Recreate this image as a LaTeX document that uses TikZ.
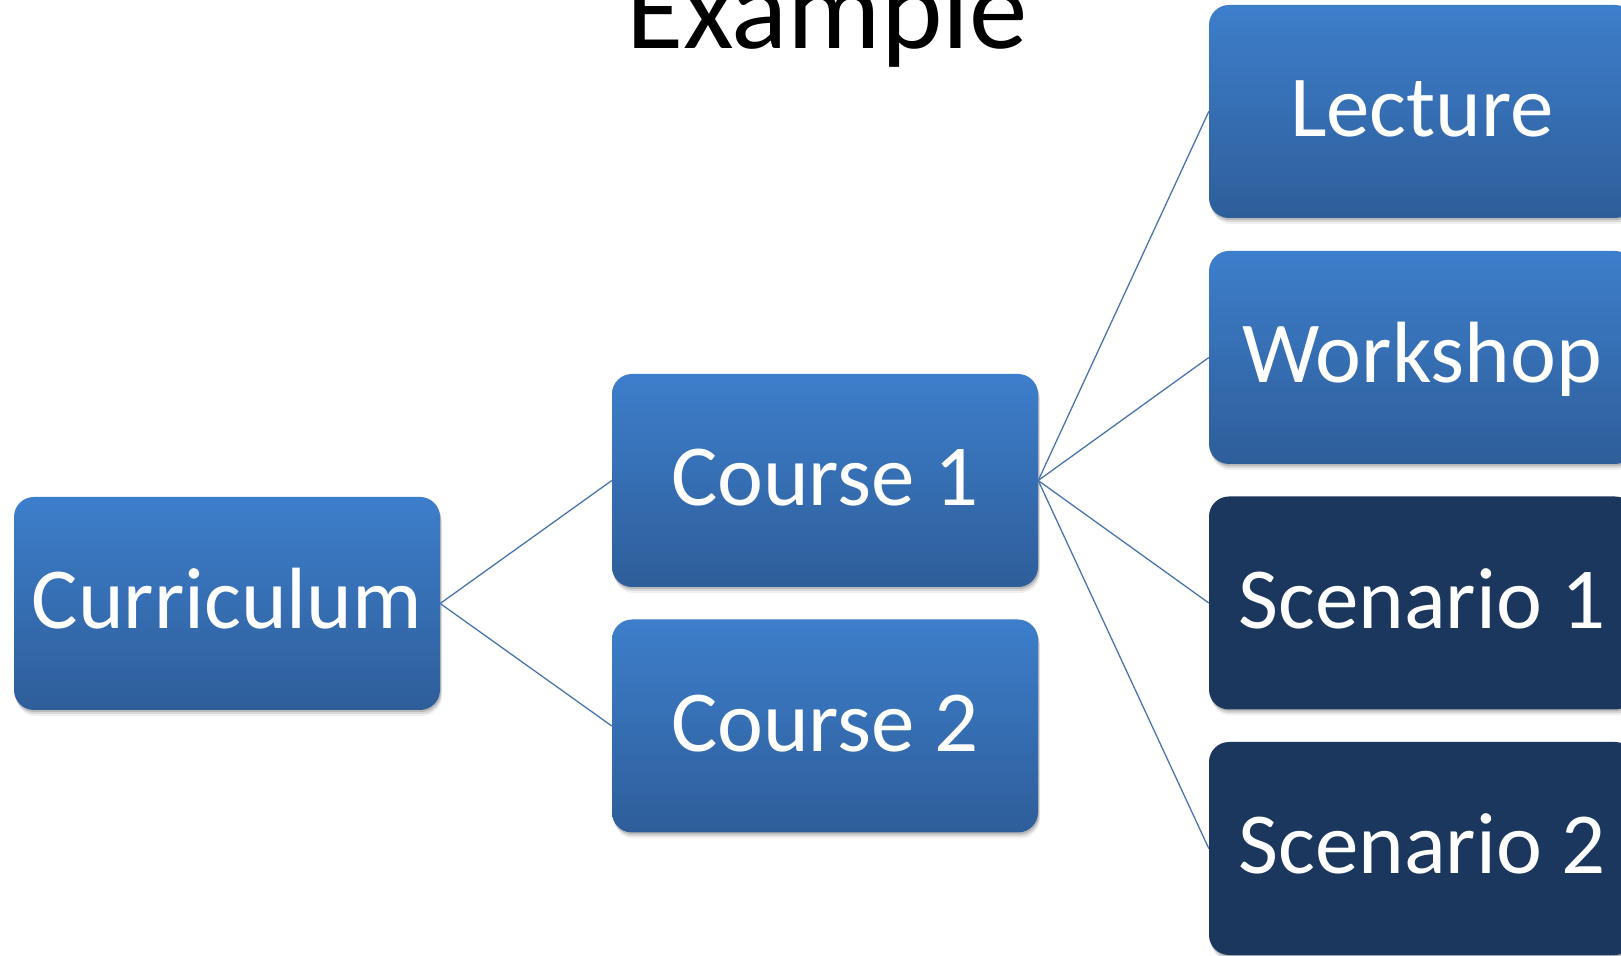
\documentclass[tikz,border=0pt]{standalone}
\usepackage{fontspec}
\setmainfont{Carlito}
\usetikzlibrary{shadows}
\definecolor{boxtop}{HTML}{3D7ECB}
\definecolor{boxbot}{HTML}{2E5E9A}
\definecolor{boxdark}{HTML}{1B375E}
\definecolor{linkc}{HTML}{4A74AE}
\begin{document}
\begin{tikzpicture}[x=1pt,y=1pt,
  softshadow/.style={
    drop shadow={shadow xshift=1pt,shadow yshift=-2pt,opacity=.14,fill=black},
    drop shadow={shadow xshift=1.5pt,shadow yshift=-4pt,opacity=.10,fill=black},
    drop shadow={shadow xshift=2pt,shadow yshift=-6pt,opacity=.06,fill=black}},
  boxbase/.style={rounded corners=20pt, minimum width=426pt, minimum height=213pt,
    inner sep=0pt, text=white, font=\fontsize{87}{100}\selectfont,
    text height=51pt, text depth=0pt, softshadow},
  bluebox/.style={boxbase, top color=boxtop, bottom color=boxbot},
  darkbox/.style={boxbase, fill=boxdark},
  link/.style={draw=linkc, line width=1.3pt}]
\useasboundingbox (0,0) rectangle (1621,955);
\node[font=\fontsize{117}{130}\selectfont, anchor=base] (title) at (827,906) {Example};
\node[bluebox] (cur) at (227,351.5) {Curriculum};
\node[bluebox] (c1) at (825,474.5) {Course 1};
\node[bluebox] (c2) at (825,229) {Course 2};
\node[bluebox] (lec) at (1422,843.5) {Lecture};
\node[bluebox] (ws) at (1422,597.5) {Workshop};
\node[darkbox] (s1) at (1422,352) {Scenario 1};
\node[darkbox] (s2) at (1422,106.5) {Scenario 2};
\draw[link] (cur.east) -- (c1.west);
\draw[link] (cur.east) -- (c2.west);
\draw[link] (c1.east) -- (lec.west);
\draw[link] (c1.east) -- (ws.west);
\draw[link] (c1.east) -- (s1.west);
\draw[link] (c1.east) -- (s2.west);
\end{tikzpicture}
\end{document}
